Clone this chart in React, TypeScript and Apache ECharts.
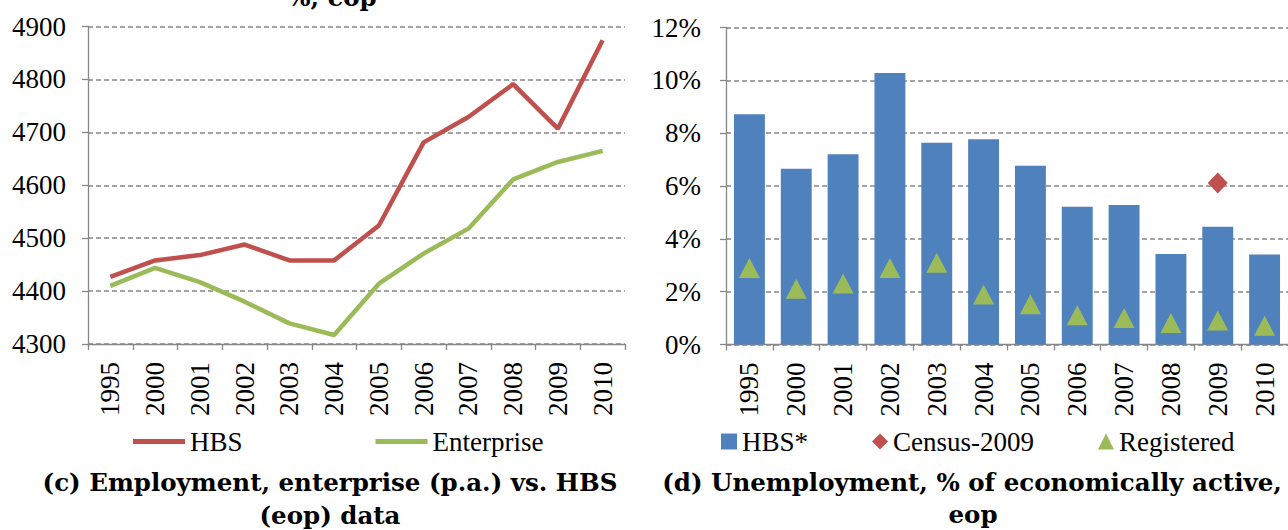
import React, { useEffect, useRef } from "react";
import * as echarts from "echarts";

const years = ["1995", "2000", "2001", "2002", "2003", "2004", "2005", "2006", "2007", "2008", "2009", "2010"];

// (c) Employment, thousands
const hbsEmployment = [4427, 4458, 4468, 4488, 4458, 4458, 4524, 4681, 4729, 4791, 4707, 4874];
const enterpriseEmployment = [4410, 4444, 4417, 4380, 4339, 4317, 4414, 4471, 4518, 4611, 4644, 4665];
const employmentTicks = { min: 4300, max: 4900, interval: 100 };

// (d) Unemployment, % of economically active
const hbsUnemployment = [8.72, 6.65, 7.2, 10.28, 7.64, 7.77, 6.77, 5.21, 5.28, 3.43, 4.46, 3.41];
const census2009 = ["-", "-", "-", "-", "-", "-", "-", "-", "-", "-", 6.11, "-"];
const registeredUnemployment = [2.9, 2.11, 2.31, 2.9, 3.09, 1.89, 1.52, 1.11, 1.0, 0.81, 0.91, 0.71];
const unemploymentTicks = { min: 0, max: 12, interval: 2 };

const titleC = ["(c) Employment, enterprise (p.a.) vs. HBS", "(eop) data"];
const titleD = ["(d) Unemployment, % of economically active,", "eop"];
const topCutTitle = "%, eop";

const RED = "#C0504D";
const GREEN = "#9BBB59";
const BLUE = "#4F81BD";
const GRAY = "#868686";
const SERIF = "Liberation Serif";
const TITLE_FONT = "bold 24.5px DejaVu Serif";

export default function App() {
  const ref = useRef<HTMLDivElement>(null);

  useEffect(() => {
    if (!ref.current) return;
    const chart = echarts.init(ref.current, undefined, { renderer: "svg" });

    const axisCommon = {
      axisLine: { show: true, lineStyle: { color: GRAY, width: 1.3 } },
      axisTick: { show: true, length: 6, lineStyle: { color: GRAY, width: 1.3 } },
    };

    const xAxisBase = (gridIndex: number) => ({
      type: "category",
      gridIndex,
      data: years,
      boundaryGap: true,
      ...axisCommon,
      axisTick: { show: true, length: 6, alignWithLabel: false, interval: 0, lineStyle: { color: GRAY, width: 1.3 } },
      axisLabel: {
        rotate: 90,
        interval: 0,
        margin: 18,
        color: "#000",
        fontFamily: SERIF,
        fontSize: 27,
      },
      splitLine: { show: false },
    });

    const splitLine = { show: true, lineStyle: { color: GRAY, type: [5, 3], width: 1.5 } };

    const option: any = {
      animation: false,
      backgroundColor: "#fff",
      grid: [
        { left: 88, top: 26.5, width: 537, height: 317.5 },
        { left: 726, top: 27.5, width: 563, height: 317 },
      ],
      xAxis: [xAxisBase(0), xAxisBase(1)],
      yAxis: [
        {
          type: "value",
          gridIndex: 0,
          min: employmentTicks.min,
          max: employmentTicks.max,
          interval: employmentTicks.interval,
          ...axisCommon,
          axisLabel: {
            margin: 22,
            color: "#000",
            fontFamily: SERIF,
            fontSize: 27,
            formatter: (v: number) => String(v),
          },
          splitLine,
        },
        {
          type: "value",
          gridIndex: 1,
          min: unemploymentTicks.min,
          max: unemploymentTicks.max,
          interval: unemploymentTicks.interval,
          ...axisCommon,
          axisLabel: { margin: 25, color: "#000", fontFamily: SERIF, fontSize: 27, formatter: "{value}%" },
          splitLine,
        },
      ],
      legend: [
        {
          left: 133,
          top: 428,
          padding: 0,
          itemWidth: 52,
          itemHeight: 5,
          itemGap: 133,
          textStyle: { color: "#000", fontFamily: SERIF, fontSize: 27 },
          data: [
            { name: "HBS", icon: "rect" },
            { name: "Enterprise", icon: "rect" },
          ],
        },
        {
          left: 721,
          top: 428,
          padding: 0,
          itemWidth: 16,
          itemHeight: 16,
          itemGap: 64,
          textStyle: { color: "#000", fontFamily: SERIF, fontSize: 27 },
          data: [
            { name: "HBS*", icon: "rect" },
            { name: "Census-2009", icon: "diamond" },
            { name: "Registered", icon: "triangle" },
          ],
        },
      ],
      series: [
        {
          name: "HBS",
          type: "line",
          xAxisIndex: 0,
          yAxisIndex: 0,
          data: hbsEmployment,
          symbol: "none",
          lineStyle: { color: RED, width: 4.5 },
          itemStyle: { color: RED },
        },
        {
          name: "Enterprise",
          type: "line",
          xAxisIndex: 0,
          yAxisIndex: 0,
          data: enterpriseEmployment,
          symbol: "none",
          lineStyle: { color: GREEN, width: 4.5 },
          itemStyle: { color: GREEN },
        },
        {
          name: "HBS*",
          type: "bar",
          xAxisIndex: 1,
          yAxisIndex: 1,
          data: hbsUnemployment,
          barCategoryGap: "34%",
          itemStyle: { color: BLUE },
        },
        {
          name: "Census-2009",
          type: "scatter",
          xAxisIndex: 1,
          yAxisIndex: 1,
          data: census2009,
          symbol: "diamond",
          symbolSize: [20, 21],
          itemStyle: { color: RED, opacity: 1 },
          z: 5,
        },
        {
          name: "Registered",
          type: "scatter",
          xAxisIndex: 1,
          yAxisIndex: 1,
          data: registeredUnemployment,
          symbol: "triangle",
          symbolSize: [21, 20],
          itemStyle: { color: GREEN, opacity: 1 },
          z: 5,
        },
      ],
      graphic: [
        {
          type: "text",
          x: 332,
          y: 10,
          style: { text: topCutTitle, font: TITLE_FONT, fill: "#000", align: "center", verticalAlign: "bottom" },
        },
        {
          type: "text",
          x: 330,
          y: 482,
          style: { text: titleC[0], font: TITLE_FONT, fill: "#000", align: "center", verticalAlign: "middle" },
        },
        {
          type: "text",
          x: 330,
          y: 515,
          style: { text: titleC[1], font: TITLE_FONT, fill: "#000", align: "center", verticalAlign: "middle" },
        },
        {
          type: "text",
          x: 972,
          y: 482,
          style: { text: titleD[0], font: TITLE_FONT, fill: "#000", align: "center", verticalAlign: "middle" },
        },
        {
          type: "text",
          x: 973,
          y: 514,
          style: { text: titleD[1], font: TITLE_FONT, fill: "#000", align: "center", verticalAlign: "middle" },
        },
      ],
    };

    chart.setOption(option);
    return () => chart.dispose();
  }, []);

  return (
    <div
      ref={ref}
      style={{ position: "absolute", left: 0, top: 0, width: 1288, height: 530, background: "#fff" }}
    />
  );
}
